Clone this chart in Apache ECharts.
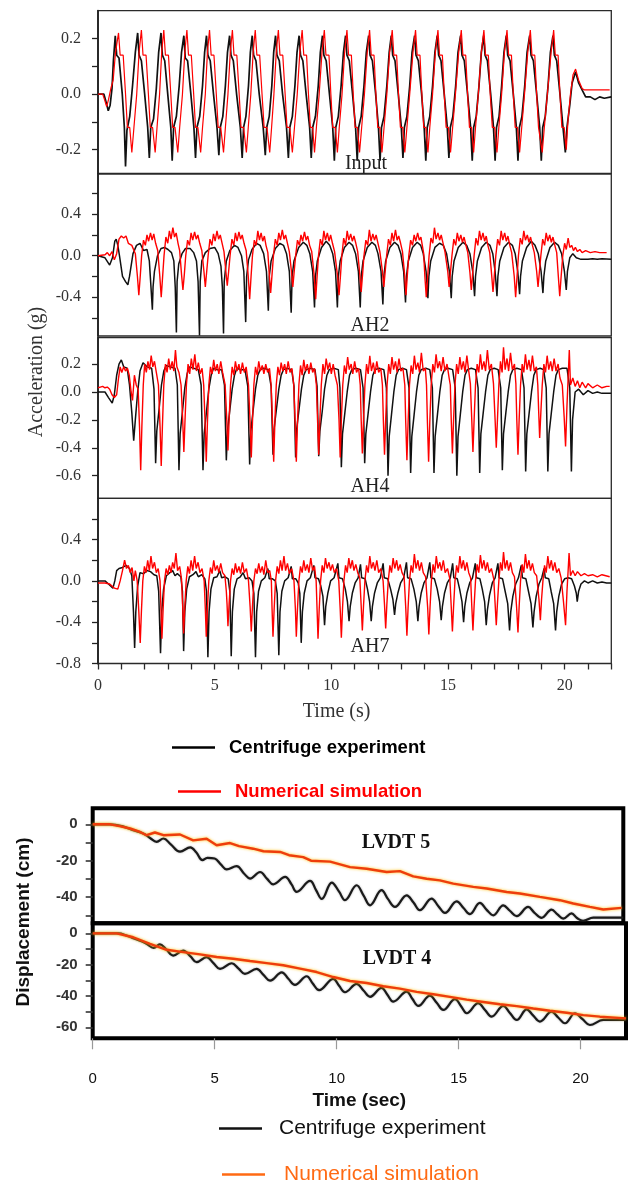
<!DOCTYPE html>
<html><head><meta charset="utf-8">
<script src="https://cdn.jsdelivr.net/npm/echarts@6/dist/echarts.min.js"></script>
<style>html,body{margin:0;padding:0;background:#fff}#c{width:631px;height:1182px}</style>
</head><body><div id="c"></div>
<script>
// ---------------- DATA (time s, value) ----------------
const inputExp = [[0,0],[0.25,0],[0.32,-0.02],[0.44,-0.06],[0.52,-0.04],[0.6,0.02],[0.66,0.12],
[0.74,0.21],[0.8,0.14],[0.9,0.13],[1.04,0],[1.13,-0.12],[1.18,-0.26],[1.24,-0.13],[1.36,-0.08],[1.48,0.03],[1.6,0.15],
[1.7,0.22],[1.76,0.14],[1.86,0.12],[2.0,0],[2.13,-0.12],[2.2,-0.23],[2.26,-0.12],[2.38,-0.09],[2.5,0.02],[2.6,0.15],
[2.7,0.22],[2.76,0.14],[2.86,0.12],[3.0,-0.01],[3.12,-0.12],[3.18,-0.24],[3.24,-0.12],[3.36,-0.08],[3.48,0.03],[3.58,0.15],
[3.68,0.21],[3.74,0.13],[3.84,0.12],[3.98,0],[4.11,-0.12],[4.18,-0.23],[4.24,-0.12],[4.36,-0.08],[4.48,0.03],[4.57,0.15],
[4.65,0.21],[4.71,0.14],[4.81,0.12],[4.95,0],[5.1,-0.12],[5.18,-0.22],[5.24,-0.12],[5.35,-0.08],[5.46,0.03],[5.55,0.15],
[5.64,0.21],[5.7,0.14],[5.8,0.12],[5.94,0],[6.1,-0.12],[6.18,-0.23],[6.24,-0.12],[6.34,-0.08],[6.45,0.03],[6.53,0.15],
[6.61,0.21],[6.67,0.14],[6.77,0.12],[6.91,0],[7.08,-0.12],[7.17,-0.22],[7.23,-0.12],[7.34,-0.08],[7.45,0.03],[7.53,0.15],
[7.61,0.21],[7.67,0.14],[7.77,0.12],[7.91,0],[8.08,-0.12],[8.16,-0.23],[8.22,-0.12],[8.33,-0.08],[8.44,0.03],[8.53,0.15],
[8.62,0.21],[8.68,0.14],[8.78,0.12],[8.92,0],[9.07,-0.12],[9.14,-0.23],[9.2,-0.12],[9.32,-0.08],[9.44,0.03],[9.53,0.15],
[9.62,0.21],[9.68,0.14],[9.78,0.12],[9.92,0],[10.06,-0.12],[10.13,-0.24],[10.19,-0.12],[10.3,-0.08],[10.42,0.03],[10.52,0.15],
[10.61,0.21],[10.67,0.14],[10.77,0.12],[10.91,0],[11.04,-0.12],[11.11,-0.24],[11.17,-0.12],[11.28,-0.08],[11.4,0.03],[11.5,0.15],
[11.6,0.21],[11.66,0.14],[11.76,0.12],[11.9,0],[12.02,-0.12],[12.09,-0.24],[12.15,-0.12],[12.26,-0.08],[12.38,0.03],[12.48,0.15],
[12.57,0.21],[12.63,0.14],[12.73,0.12],[12.87,0],[13.0,-0.12],[13.07,-0.23],[13.13,-0.12],[13.24,-0.08],[13.36,0.03],[13.46,0.15],
[13.57,0.21],[13.63,0.14],[13.73,0.12],[13.87,0],[13.98,-0.12],[14.05,-0.24],[14.11,-0.12],[14.22,-0.08],[14.34,0.03],[14.44,0.15],
[14.54,0.21],[14.6,0.14],[14.7,0.12],[14.84,0],[14.97,-0.12],[15.04,-0.23],[15.1,-0.12],[15.21,-0.08],[15.33,0.03],[15.43,0.15],
[15.54,0.21],[15.6,0.14],[15.7,0.12],[15.84,0],[15.97,-0.12],[16.04,-0.24],[16.1,-0.12],[16.21,-0.08],[16.33,0.03],[16.43,0.15],
[16.53,0.21],[16.59,0.14],[16.69,0.12],[16.83,0],[16.95,-0.12],[17.02,-0.24],[17.08,-0.12],[17.19,-0.08],[17.3,0.03],[17.4,0.15],
[17.5,0.21],[17.56,0.14],[17.66,0.12],[17.8,0],[17.93,-0.12],[18.0,-0.24],[18.06,-0.12],[18.17,-0.08],[18.29,0.03],[18.39,0.15],
[18.5,0.21],[18.56,0.14],[18.66,0.12],[18.8,0],[18.93,-0.12],[19.0,-0.24],[19.06,-0.12],[19.17,-0.08],[19.29,0.03],[19.39,0.15],
[19.5,0.21],[19.56,0.14],[19.66,0.12],[19.8,0],[19.93,-0.12],[20.03,-0.21],[20.1,-0.12],[20.22,-0.04],[20.32,0.04],[20.47,0.08],
[20.6,0.04],[20.78,0.01],[20.9,-0.01],[21.1,-0.01],[21.3,-0.02],[21.5,-0.01],[21.7,-0.015],[22,-0.01]];

const inputNum = [[0,0],[0.2,0],[0.28,-0.02],[0.37,-0.045],[0.45,-0.02],[0.55,0.02],[0.65,0.05],[0.75,0.15],
[0.88,0.22],[0.95,0.14],[1.08,0.14],[1.18,0],[1.26,-0.12],[1.36,-0.12],[1.45,-0.21],[1.54,-0.12],[1.66,0],[1.76,0.15],
[1.86,0.23],[1.93,0.14],[2.06,0.14],[2.16,0],[2.24,-0.12],[2.34,-0.12],[2.45,-0.21],[2.53,-0.12],[2.64,0],[2.73,0.15],
[2.82,0.23],[2.89,0.14],[3.02,0.14],[3.12,0],[3.2,-0.12],[3.3,-0.12],[3.42,-0.21],[3.5,-0.12],[3.62,0],[3.72,0.15],
[3.81,0.23],[3.88,0.14],[4.0,0.14],[4.1,0],[4.18,-0.12],[4.28,-0.12],[4.4,-0.21],[4.48,-0.12],[4.6,0],[4.69,0.15],
[4.78,0.23],[4.85,0.14],[4.97,0.14],[5.07,0],[5.15,-0.12],[5.26,-0.12],[5.38,-0.21],[5.46,-0.12],[5.57,0],[5.67,0.15],
[5.76,0.23],[5.83,0.14],[5.95,0.14],[6.05,0],[6.13,-0.12],[6.24,-0.12],[6.36,-0.21],[6.44,-0.12],[6.55,0],[6.65,0.15],
[6.74,0.23],[6.81,0.14],[6.93,0.14],[7.03,0],[7.12,-0.12],[7.24,-0.12],[7.36,-0.21],[7.44,-0.12],[7.54,0],[7.64,0.15],
[7.73,0.23],[7.8,0.14],[7.92,0.14],[8.02,0],[8.1,-0.12],[8.22,-0.12],[8.33,-0.21],[8.42,-0.12],[8.54,0],[8.65,0.15],
[8.75,0.23],[8.82,0.14],[8.94,0.14],[9.02,0],[9.1,-0.12],[9.2,-0.12],[9.28,-0.21],[9.36,-0.12],[9.48,0],[9.6,0.15],
[9.7,0.23],[9.77,0.14],[9.9,0.14],[9.98,0],[10.06,-0.12],[10.17,-0.12],[10.26,-0.21],[10.34,-0.12],[10.46,0],[10.57,0.15],
[10.67,0.23],[10.74,0.14],[10.86,0.14],[10.94,0],[11.02,-0.12],[11.12,-0.12],[11.21,-0.21],[11.3,-0.12],[11.42,0],[11.54,0.15],
[11.64,0.23],[11.71,0.14],[11.83,0.14],[11.91,0],[11.99,-0.12],[12.08,-0.12],[12.17,-0.21],[12.26,-0.12],[12.38,0],[12.5,0.15],
[12.61,0.23],[12.68,0.14],[12.8,0.14],[12.88,0],[12.96,-0.12],[13.06,-0.12],[13.15,-0.21],[13.24,-0.12],[13.36,0],[13.5,0.15],
[13.61,0.23],[13.68,0.14],[13.8,0.14],[13.88,0],[13.96,-0.12],[14.05,-0.12],[14.14,-0.21],[14.22,-0.12],[14.34,0],[14.46,0.15],
[14.57,0.23],[14.64,0.14],[14.76,0.14],[14.84,0],[14.92,-0.12],[15.02,-0.12],[15.11,-0.21],[15.2,-0.12],[15.32,0],[15.46,0.15],
[15.57,0.23],[15.64,0.14],[15.76,0.14],[15.84,0],[15.92,-0.12],[16.01,-0.12],[16.1,-0.21],[16.18,-0.12],[16.3,0],[16.43,0.15],
[16.54,0.23],[16.61,0.14],[16.73,0.14],[16.81,0],[16.9,-0.12],[17.0,-0.12],[17.1,-0.21],[17.18,-0.12],[17.3,0],[17.42,0.15],
[17.53,0.23],[17.6,0.14],[17.72,0.14],[17.8,0],[17.88,-0.12],[17.98,-0.12],[18.07,-0.21],[18.16,-0.12],[18.28,0],[18.42,0.15],
[18.53,0.23],[18.6,0.14],[18.72,0.14],[18.8,0],[18.88,-0.12],[18.95,-0.12],[19.04,-0.21],[19.13,-0.12],[19.26,0],[19.42,0.15],
[19.53,0.23],[19.6,0.14],[19.72,0.14],[19.8,0],[19.88,-0.12],[19.98,-0.12],[20.07,-0.2],[20.14,-0.1],[20.25,0],[20.36,0.07],
[20.47,0.09],[20.6,0.05],[20.75,0.02],[20.85,0.015],[21.93,0.015]];

const ah2Exp = [[0,0],[0.3,-0.02],[0.5,-0.09],[0.62,-0.02],[0.72,0.14],[0.78,0.16],[0.85,0.1],[0.92,0.0],[1.05,-0.2],[1.18,-0.25],[1.28,-0.28],[1.35,-0.2],[1.5,0.02],[1.65,0.1],[1.8,0.12],[1.95,0.05],[2.1,0.06],[2.2,-0.05],[2.27,-0.3],[2.33,-0.52],
[2.36,-0.3],[2.42,-0.15],[2.55,0.0],[2.7,0.07],[2.85,0.08],[3.0,0.06],[3.15,0.03],[3.25,-0.05],[3.31,-0.3],[3.36,-0.74],
[3.39,-0.25],[3.46,-0.08],[3.6,0.02],[3.75,0.07],[3.95,0.07],[4.1,0.03],[4.22,-0.05],[4.29,-0.25],[4.35,-0.77],
[4.38,-0.25],[4.45,-0.05],[4.6,0.03],[4.8,0.07],[5.0,0.08],[5.15,0.02],[5.27,-0.1],[5.33,-0.3],[5.38,-0.75],
[5.41,-0.25],[5.5,-0.05],[5.65,0.05],[5.85,0.1],[6.0,0.08],[6.15,0.0],[6.25,-0.15],[6.33,-0.64],
[6.37,-0.2],[6.45,-0.04],[6.6,0.06],[6.8,0.12],[6.95,0.1],[7.1,0.02],[7.22,-0.15],[7.3,-0.53],
[7.34,-0.2],[7.42,-0.05],[7.6,0.07],[7.8,0.12],[7.95,0.1],[8.08,0.02],[8.2,-0.15],[8.28,-0.55],
[8.32,-0.2],[8.4,-0.05],[8.6,0.08],[8.8,0.13],[8.95,0.1],[9.08,0.02],[9.2,-0.15],[9.28,-0.5],
[9.32,-0.2],[9.4,-0.05],[9.58,0.08],[9.78,0.14],[9.93,0.1],[10.06,0.02],[10.18,-0.15],[10.26,-0.5],
[10.3,-0.2],[10.38,-0.05],[10.56,0.08],[10.76,0.13],[10.91,0.1],[11.04,0.02],[11.16,-0.15],[11.24,-0.5],
[11.28,-0.2],[11.36,-0.05],[11.54,0.08],[11.74,0.13],[11.89,0.1],[12.0,0.02],[12.13,-0.15],[12.21,-0.47],
[12.25,-0.2],[12.33,-0.05],[12.51,0.08],[12.71,0.13],[12.86,0.1],[12.98,0.02],[13.1,-0.15],[13.18,-0.45],
[13.22,-0.2],[13.3,-0.05],[13.48,0.08],[13.68,0.13],[13.83,0.1],[13.94,0.02],[14.06,-0.15],[14.14,-0.41],
[14.18,-0.2],[14.26,-0.05],[14.44,0.08],[14.64,0.12],[14.8,0.1],[14.94,0.02],[15.06,-0.15],[15.14,-0.41],
[15.18,-0.2],[15.26,-0.05],[15.44,0.08],[15.64,0.13],[15.8,0.1],[15.94,0.02],[16.06,-0.15],[16.14,-0.39],
[16.18,-0.2],[16.26,-0.05],[16.44,0.08],[16.64,0.13],[16.8,0.1],[16.92,0.02],[17.02,-0.15],[17.1,-0.39],
[17.14,-0.2],[17.22,-0.05],[17.4,0.08],[17.6,0.13],[17.76,0.1],[17.88,0.02],[17.99,-0.15],[18.07,-0.37],
[18.11,-0.2],[18.19,-0.05],[18.37,0.08],[18.57,0.14],[18.73,0.1],[18.87,0.02],[18.99,-0.15],[19.07,-0.36],
[19.11,-0.2],[19.19,-0.05],[19.37,0.08],[19.57,0.13],[19.73,0.1],[19.87,0.02],[19.99,-0.15],[20.07,-0.33],
[20.12,-0.15],[20.22,-0.02],[20.35,0.02],[20.5,-0.02],[20.7,-0.035],[21.0,-0.035],[21.2,-0.03],[21.4,-0.035],[21.6,-0.03],[22,-0.035]];

const ah2Num = [[0,0],[0.3,0.01],[0.4,0.03],[0.5,0.0],[0.6,0.04],[0.7,-0.04],[0.8,0.02],[0.9,0.16],[1.0,0.19],[1.1,0.17],[1.2,0.19],[1.3,0.12],[1.45,0.1],[1.6,0.02],[1.69,-0.2],[1.75,-0.38],
[1.81,-0.2],[1.87,0.0],[1.95,0.15],[2.03,0.1],[2.1,0.2],[2.17,0.14],[2.25,0.22],[2.32,0.15],[2.39,0.21],[2.47,0.12],[2.56,0.05],[2.65,-0.2],[2.71,-0.4],
[2.77,-0.2],[2.83,0.0],[2.91,0.18],[2.99,0.12],[3.06,0.24],[3.13,0.16],[3.21,0.27],[3.28,0.18],[3.35,0.22],[3.43,0.12],[3.5,0.05],[3.58,-0.18],[3.64,-0.33],
[3.7,-0.18],[3.76,0.0],[3.84,0.15],[3.92,0.1],[3.99,0.22],[4.06,0.15],[4.14,0.23],[4.21,0.16],[4.28,0.2],[4.36,0.12],[4.45,0.05],[4.54,-0.15],[4.6,-0.3],
[4.66,-0.15],[4.72,0.0],[4.8,0.16],[4.88,0.1],[4.95,0.21],[5.02,0.14],[5.1,0.24],[5.17,0.16],[5.24,0.2],[5.32,0.12],[5.4,0.04],[5.48,-0.15],[5.54,-0.29],
[5.6,-0.15],[5.66,0.0],[5.74,0.16],[5.82,0.1],[5.89,0.22],[5.96,0.14],[6.04,0.23],[6.11,0.16],[6.18,0.2],[6.26,0.12],[6.35,0.05],[6.44,-0.2],[6.5,-0.42],
[6.56,-0.2],[6.62,0.0],[6.7,0.15],[6.78,0.1],[6.85,0.24],[6.92,0.15],[6.99,0.22],[7.06,0.14],[7.13,0.19],[7.2,0.1],[7.28,0.03],[7.34,-0.18],[7.4,-0.36],
[7.46,-0.18],[7.52,0.0],[7.6,0.16],[7.68,0.1],[7.75,0.22],[7.82,0.15],[7.9,0.25],[7.97,0.16],[8.04,0.2],[8.12,0.12],[8.2,0.04],[8.29,-0.15],[8.35,-0.3],
[8.41,-0.15],[8.47,0.0],[8.55,0.15],[8.63,0.1],[8.7,0.2],[8.77,0.14],[8.85,0.23],[8.92,0.15],[8.99,0.19],[9.07,0.1],[9.16,0.04],[9.27,-0.2],[9.33,-0.42],
[9.39,-0.2],[9.45,0.0],[9.53,0.16],[9.61,0.1],[9.68,0.24],[9.75,0.15],[9.83,0.22],[9.9,0.14],[9.97,0.2],[10.05,0.12],[10.14,0.04],[10.27,-0.2],[10.33,-0.38],
[10.39,-0.2],[10.45,0.0],[10.53,0.17],[10.61,0.1],[10.68,0.24],[10.75,0.15],[10.83,0.21],[10.9,0.14],[10.97,0.19],[11.05,0.12],[11.13,0.04],[11.22,-0.18],[11.28,-0.35],
[11.34,-0.18],[11.4,0.0],[11.48,0.15],[11.56,0.1],[11.63,0.25],[11.7,0.14],[11.78,0.21],[11.85,0.15],[11.92,0.2],[12.0,0.12],[12.08,0.04],[12.19,-0.15],[12.25,-0.3],
[12.31,-0.15],[12.37,0.0],[12.45,0.16],[12.53,0.1],[12.6,0.22],[12.67,0.14],[12.75,0.25],[12.82,0.15],[12.89,0.19],[12.97,0.12],[13.05,0.04],[13.14,-0.18],[13.2,-0.38],
[13.26,-0.18],[13.32,0.0],[13.4,0.15],[13.48,0.1],[13.55,0.2],[13.62,0.14],[13.7,0.22],[13.77,0.15],[13.84,0.18],[13.9,0.1],[13.96,0.02],[14.01,-0.2],[14.07,-0.4],
[14.13,-0.2],[14.19,0.0],[14.27,0.17],[14.35,0.12],[14.42,0.27],[14.49,0.16],[14.57,0.22],[14.64,0.15],[14.71,0.2],[14.79,0.12],[14.87,0.04],[14.99,-0.15],[15.05,-0.3],
[15.11,-0.15],[15.17,0.0],[15.25,0.16],[15.33,0.1],[15.4,0.22],[15.47,0.14],[15.55,0.2],[15.62,0.13],[15.69,0.18],[15.77,0.1],[15.85,0.03],[15.94,-0.16],[16.0,-0.33],
[16.06,-0.16],[16.12,0.0],[16.2,0.17],[16.28,0.1],[16.35,0.24],[16.42,0.15],[16.5,0.22],[16.57,0.14],[16.64,0.19],[16.71,0.1],[16.79,0.03],[16.87,-0.18],[16.93,-0.35],
[16.99,-0.18],[17.05,0.0],[17.13,0.16],[17.21,0.1],[17.28,0.24],[17.35,0.15],[17.43,0.22],[17.5,0.14],[17.57,0.19],[17.65,0.1],[17.73,0.03],[17.84,-0.2],[17.9,-0.4],
[17.96,-0.2],[18.02,0.0],[18.1,0.17],[18.18,0.11],[18.25,0.24],[18.32,0.15],[18.4,0.2],[18.47,0.13],[18.54,0.18],[18.62,0.1],[18.7,0.03],[18.8,-0.15],[18.86,-0.3],
[18.92,-0.15],[18.98,0.0],[19.06,0.16],[19.14,0.1],[19.21,0.22],[19.28,0.14],[19.36,0.2],[19.43,0.13],[19.5,0.18],[19.58,0.1],[19.66,0.03],[19.73,-0.2],[19.79,-0.39],
[19.85,-0.2],[19.92,0.0],[20.0,0.12],[20.07,0.06],[20.15,0.17],[20.22,0.08],[20.3,0.1],[20.38,0.05],[20.46,0.08],[20.55,0.04],[20.65,0.06],[20.75,0.03],[20.9,0.05],[21.1,0.03],[21.3,0.04],[21.5,0.03],[21.8,0.03]];

const ah4Exp = [[0,0],[0.3,0],[0.45,-0.04],[0.61,-0.08],[0.7,-0.02],[0.8,0.12],[0.9,0.2],[1.0,0.23],[1.1,0.18],[1.25,0.17],[1.35,0.05],[1.45,-0.15],[1.53,-0.35],[1.6,-0.2],[1.7,0.0],[1.8,0.15],[1.93,0.21],[2.1,0.18],[2.3,0.17],[2.4,0.02],[2.47,-0.51],
[2.52,-0.28],[2.62,-0.12],[2.72,0.05],[2.82,0.15],[2.92,0.19],[3.1,0.18],[3.3,0.17],[3.4,0.05],[3.47,-0.56],
[3.52,-0.3],[3.62,-0.14],[3.72,0.03],[3.82,0.13],[3.92,0.18],[4.1,0.17],[4.3,0.16],[4.42,0.05],[4.5,-0.56],
[4.55,-0.3],[4.65,-0.14],[4.75,0.02],[4.85,0.12],[4.95,0.17],[5.1,0.16],[5.3,0.16],[5.42,0.05],[5.5,-0.49],
[5.55,-0.28],[5.65,-0.13],[5.75,0.02],[5.85,0.12],[5.95,0.17],[6.1,0.16],[6.3,0.16],[6.42,0.04],[6.5,-0.52],
[6.55,-0.28],[6.65,-0.13],[6.75,0.02],[6.85,0.12],[6.95,0.16],[7.1,0.17],[7.3,0.16],[7.42,0.04],[7.5,-0.45],
[7.55,-0.26],[7.65,-0.12],[7.75,0.02],[7.85,0.12],[7.95,0.16],[8.1,0.17],[8.3,0.16],[8.4,0.04],[8.47,-0.47],
[8.52,-0.26],[8.62,-0.12],[8.72,0.02],[8.82,0.12],[8.92,0.16],[9.1,0.17],[9.3,0.16],[9.39,0.04],[9.46,-0.46],
[9.51,-0.28],[9.61,-0.14],[9.71,0.02],[9.81,0.12],[9.91,0.16],[10.1,0.17],[10.3,0.16],[10.37,0.03],[10.43,-0.54],
[10.48,-0.3],[10.58,-0.15],[10.68,0.0],[10.78,0.12],[10.88,0.16],[11.05,0.17],[11.25,0.16],[11.36,0.03],[11.43,-0.51],
[11.48,-0.3],[11.58,-0.15],[11.68,0.0],[11.78,0.12],[11.88,0.16],[12.05,0.17],[12.25,0.16],[12.36,0.03],[12.43,-0.6],
[12.48,-0.32],[12.58,-0.16],[12.68,0.0],[12.78,0.12],[12.88,0.16],[13.05,0.17],[13.22,0.16],[13.33,0.03],[13.4,-0.58],
[13.45,-0.32],[13.55,-0.16],[13.65,0.0],[13.75,0.12],[13.85,0.16],[14.05,0.17],[14.22,0.16],[14.33,0.03],[14.4,-0.58],
[14.45,-0.32],[14.55,-0.16],[14.65,0.0],[14.75,0.12],[14.85,0.16],[15.0,0.17],[15.2,0.16],[15.31,0.03],[15.38,-0.6],
[15.43,-0.32],[15.53,-0.16],[15.63,0.0],[15.73,0.12],[15.83,0.16],[16.0,0.17],[16.18,0.16],[16.29,0.03],[16.36,-0.58],
[16.41,-0.3],[16.51,-0.15],[16.61,0.0],[16.71,0.12],[16.81,0.16],[16.98,0.17],[17.15,0.16],[17.26,0.03],[17.33,-0.56],
[17.38,-0.3],[17.48,-0.15],[17.58,0.0],[17.68,0.12],[17.78,0.16],[17.95,0.17],[18.15,0.16],[18.26,0.03],[18.33,-0.57],
[18.38,-0.3],[18.48,-0.15],[18.58,0.0],[18.68,0.12],[18.78,0.16],[18.95,0.17],[19.1,0.16],[19.21,0.03],[19.28,-0.57],
[19.33,-0.3],[19.43,-0.15],[19.53,0.0],[19.63,0.12],[19.73,0.16],[19.9,0.17],[20.1,0.17],[20.22,0.03],[20.29,-0.57],
[20.34,-0.2],[20.45,0.0],[20.6,0.02],[20.8,-0.02],[21.0,0.01],[21.2,-0.01],[21.4,0.0],[21.6,-0.01],[22,-0.01]];

const ah4Num = [[0,0.03],[0.1,0.035],[0.2,0.04],[0.3,0.03],[0.4,0.035],[0.5,0.02],[0.6,-0.02],[0.7,-0.04],[0.8,-0.02],[0.88,0.1],[0.95,0.18],[1.02,0.14],[1.1,0.18],[1.18,0.15],[1.26,0.17],[1.34,0.12],[1.42,0.0],[1.48,-0.06],[1.56,0.12],[1.64,0.05],[1.72,0.02],[1.78,-0.25],[1.83,-0.56],
[1.88,-0.25],[1.94,0.05],[2.0,0.2],[2.07,0.14],[2.14,0.22],[2.21,0.16],[2.28,0.26],[2.35,0.18],[2.42,0.22],[2.5,0.14],[2.59,0.05],[2.66,-0.25],[2.71,-0.53],
[2.76,-0.25],[2.82,0.05],[2.89,0.2],[2.96,0.14],[3.03,0.24],[3.1,0.16],[3.18,0.22],[3.25,0.15],[3.32,0.3],[3.38,0.18],[3.47,0.14],[3.56,0.05],[3.63,-0.2],[3.68,-0.43],
[3.73,-0.2],[3.79,0.05],[3.86,0.2],[3.93,0.13],[4.0,0.24],[4.07,0.16],[4.15,0.27],[4.22,0.15],[4.3,0.21],[4.38,0.13],[4.46,0.17],[4.53,0.05],[4.59,-0.22],[4.64,-0.5],
[4.69,-0.22],[4.75,0.05],[4.82,0.18],[4.89,0.13],[4.96,0.23],[5.03,0.15],[5.11,0.2],[5.18,0.13],[5.26,0.22],[5.34,0.14],[5.45,0.05],[5.52,-0.2],[5.57,-0.42],
[5.62,-0.2],[5.68,0.05],[5.75,0.18],[5.82,0.12],[5.89,0.22],[5.96,0.15],[6.04,0.2],[6.11,0.13],[6.19,0.21],[6.27,0.14],[6.35,0.18],[6.45,0.05],[6.52,-0.22],[6.57,-0.47],
[6.62,-0.22],[6.68,0.05],[6.75,0.18],[6.82,0.12],[6.89,0.22],[6.96,0.15],[7.04,0.19],[7.11,0.13],[7.19,0.2],[7.27,0.14],[7.35,0.17],[7.42,0.05],[7.48,-0.22],[7.53,-0.5],
[7.58,-0.22],[7.64,0.05],[7.71,0.18],[7.78,0.12],[7.85,0.21],[7.92,0.15],[8.0,0.2],[8.07,0.13],[8.15,0.22],[8.23,0.14],[8.31,0.17],[8.39,0.05],[8.45,-0.22],[8.5,-0.5],
[8.55,-0.22],[8.61,0.05],[8.68,0.19],[8.75,0.12],[8.82,0.23],[8.89,0.15],[8.97,0.2],[9.04,0.13],[9.12,0.21],[9.2,0.14],[9.28,0.17],[9.36,0.05],[9.41,-0.2],[9.46,-0.45],
[9.51,-0.2],[9.57,0.05],[9.64,0.2],[9.71,0.13],[9.78,0.24],[9.85,0.16],[9.93,0.21],[10.0,0.13],[10.08,0.2],[10.16,0.12],[10.26,0.05],[10.33,-0.2],[10.38,-0.47],
[10.43,-0.2],[10.49,0.05],[10.56,0.19],[10.63,0.13],[10.7,0.25],[10.77,0.16],[10.85,0.2],[10.92,0.13],[11.0,0.22],[11.08,0.14],[11.17,0.17],[11.24,0.05],[11.28,-0.2],[11.33,-0.44],
[11.38,-0.2],[11.44,0.05],[11.51,0.2],[11.58,0.13],[11.65,0.26],[11.72,0.15],[11.8,0.21],[11.87,0.13],[11.95,0.22],[12.03,0.14],[12.12,0.17],[12.19,0.05],[12.23,-0.2],[12.28,-0.45],
[12.33,-0.2],[12.39,0.05],[12.46,0.2],[12.53,0.13],[12.6,0.25],[12.67,0.16],[12.75,0.22],[12.82,0.14],[12.9,0.24],[12.98,0.15],[13.07,0.17],[13.15,0.05],[13.19,-0.22],[13.24,-0.49],
[13.29,-0.22],[13.35,0.05],[13.42,0.19],[13.49,0.13],[13.56,0.26],[13.63,0.16],[13.71,0.21],[13.78,0.14],[13.86,0.28],[13.94,0.15],[14.03,0.17],[14.08,0.05],[14.12,-0.22],[14.17,-0.5],
[14.22,-0.22],[14.28,0.05],[14.35,0.2],[14.42,0.14],[14.49,0.27],[14.56,0.17],[14.64,0.22],[14.71,0.15],[14.79,0.25],[14.87,0.15],[14.96,0.2],[15.05,0.1],[15.1,0.05],[15.14,-0.2],[15.19,-0.44],
[15.24,-0.2],[15.3,0.05],[15.37,0.2],[15.44,0.13],[15.51,0.25],[15.58,0.16],[15.66,0.22],[15.73,0.14],[15.81,0.26],[15.89,0.15],[15.96,0.06],[16.02,-0.2],[16.07,-0.43],
[16.12,-0.2],[16.18,0.05],[16.25,0.2],[16.32,0.14],[16.39,0.27],[16.46,0.16],[16.54,0.22],[16.61,0.15],[16.69,0.3],[16.77,0.16],[16.86,0.2],[16.95,0.06],[17.02,-0.2],[17.07,-0.4],
[17.12,-0.2],[17.18,0.05],[17.25,0.22],[17.32,0.14],[17.38,0.32],[17.45,0.16],[17.53,0.24],[17.6,0.15],[17.68,0.28],[17.76,0.16],[17.85,0.2],[17.91,0.06],[17.95,-0.2],[18.0,-0.45],
[18.05,-0.2],[18.11,0.05],[18.18,0.2],[18.25,0.14],[18.32,0.27],[18.39,0.16],[18.47,0.23],[18.54,0.15],[18.62,0.26],[18.7,0.15],[18.79,0.18],[18.85,0.05],[18.89,-0.15],[18.93,-0.33],
[18.98,-0.15],[19.04,0.05],[19.11,0.2],[19.18,0.14],[19.25,0.26],[19.32,0.16],[19.4,0.22],[19.47,0.15],[19.55,0.24],[19.63,0.15],[19.72,0.2],[19.8,0.1],[19.9,0.05],[19.98,-0.18],[20.04,-0.39],
[20.1,-0.1],[20.15,0.1],[20.2,0.3],[20.25,0.05],[20.35,0.1],[20.45,0.04],[20.55,0.08],[20.65,0.03],[20.75,0.07],[20.9,0.03],[21.0,0.06],[21.2,0.03],[21.4,0.05],[21.6,0.03],[21.8,0.04],[21.93,0.04]];

const ah7Exp = [[0,0],[0.3,0],[0.45,-0.03],[0.64,-0.07],[0.72,0.0],[0.8,0.1],[0.9,0.12],[1.05,0.13],[1.2,0.15],[1.35,0.12],[1.45,0.05],[1.52,-0.3],[1.57,-0.65],
[1.62,-0.3],[1.7,-0.05],[1.8,0.08],[1.95,0.07],[2.1,0.1],[2.25,0.09],[2.4,0.06],[2.52,0.05],[2.6,-0.1],[2.68,-0.7],
[2.73,-0.3],[2.81,-0.08],[2.93,0.05],[3.08,0.08],[3.2,0.1],[3.3,0.05],[3.4,0.07],[3.55,0.04],[3.62,-0.1],[3.67,-0.68],
[3.72,-0.3],[3.8,-0.08],[3.92,0.04],[4.07,0.06],[4.2,0.09],[4.3,0.04],[4.45,0.06],[4.58,0.02],[4.65,-0.1],[4.71,-0.74],
[4.76,-0.3],[4.84,-0.08],[4.96,0.03],[5.1,0.04],[5.22,0.1],[5.3,0.03],[5.45,0.04],[5.58,0.02],[5.65,-0.1],[5.71,-0.73],
[5.76,-0.3],[5.84,-0.08],[5.96,0.02],[6.1,0.04],[6.22,0.08],[6.32,0.02],[6.48,0.03],[6.6,0.0],[6.68,-0.12],[6.75,-0.74],
[6.8,-0.3],[6.88,-0.1],[7.0,0.0],[7.15,0.03],[7.28,0.12],[7.34,0.02],[7.48,0.02],[7.6,0.0],[7.68,-0.12],[7.75,-0.72],
[7.8,-0.3],[7.88,-0.1],[8.0,0.0],[8.15,0.03],[8.28,0.14],[8.33,0.02],[8.48,0.02],[8.58,-0.02],[8.65,-0.12],[8.71,-0.6],
[8.76,-0.3],[8.84,-0.12],[8.96,0.0],[9.1,0.03],[9.25,0.15],[9.3,0.03],[9.45,0.02],[9.55,-0.05],[9.64,-0.15],[9.71,-0.43],
[9.76,-0.25],[9.85,-0.12],[9.97,0.0],[10.12,0.03],[10.28,0.17],[10.33,0.03],[10.48,0.02],[10.6,-0.08],[10.69,-0.2],[10.76,-0.39],
[10.81,-0.25],[10.9,-0.12],[11.02,-0.02],[11.15,0.03],[11.25,0.16],[11.3,0.03],[11.45,0.02],[11.55,-0.08],[11.64,-0.2],[11.71,-0.39],
[11.76,-0.25],[11.85,-0.12],[11.97,-0.02],[12.1,0.03],[12.22,0.17],[12.27,0.03],[12.42,0.02],[12.54,-0.08],[12.64,-0.18],[12.71,-0.33],
[12.76,-0.22],[12.85,-0.12],[12.97,-0.02],[13.1,0.03],[13.22,0.18],[13.27,0.03],[13.42,0.02],[13.54,-0.08],[13.64,-0.2],[13.71,-0.39],
[13.76,-0.25],[13.85,-0.12],[13.97,-0.02],[14.1,0.03],[14.22,0.18],[14.27,0.03],[14.42,0.02],[14.54,-0.08],[14.64,-0.2],[14.71,-0.38],
[14.76,-0.25],[14.85,-0.12],[14.97,-0.02],[15.1,0.03],[15.2,0.17],[15.25,0.03],[15.4,0.02],[15.5,-0.08],[15.6,-0.2],[15.67,-0.4],
[15.72,-0.25],[15.81,-0.12],[15.93,-0.02],[16.05,0.03],[16.17,0.17],[16.22,0.03],[16.37,0.02],[16.47,-0.08],[16.57,-0.2],[16.64,-0.43],
[16.69,-0.28],[16.78,-0.14],[16.9,-0.02],[17.02,0.03],[17.14,0.17],[17.19,0.03],[17.34,0.02],[17.45,-0.1],[17.56,-0.22],[17.64,-0.48],
[17.69,-0.3],[17.78,-0.15],[17.9,-0.03],[18.02,0.03],[18.14,0.15],[18.19,0.03],[18.34,0.02],[18.45,-0.1],[18.56,-0.22],[18.64,-0.45],
[18.69,-0.3],[18.78,-0.15],[18.9,-0.03],[19.02,0.03],[19.12,0.12],[19.17,0.03],[19.32,0.02],[19.42,-0.1],[19.53,-0.22],[19.61,-0.48],
[19.66,-0.3],[19.75,-0.15],[19.87,-0.03],[20.0,0.02],[20.15,0.03],[20.3,0.02],[20.42,-0.05],[20.5,-0.12],[20.54,-0.2],
[20.6,-0.1],[20.7,-0.03],[20.85,0.0],[21.0,-0.02],[21.2,0.0],[21.4,-0.02],[21.6,-0.01],[21.8,-0.02],[22,-0.02]];

const ah7Num = [[0,-0.02],[0.3,-0.02],[0.5,-0.03],[0.7,-0.07],[0.85,-0.08],[0.95,0.0],[1.05,0.1],[1.14,0.2],[1.22,0.12],[1.3,0.15],[1.38,0.08],[1.46,0.13],[1.54,0.0],[1.6,0.1],[1.68,0.0],[1.75,-0.3],[1.81,-0.6],
[1.86,-0.3],[1.92,0.0],[1.99,0.14],[2.06,0.08],[2.13,0.2],[2.2,0.1],[2.27,0.24],[2.34,0.12],[2.42,0.18],[2.5,0.08],[2.58,0.12],[2.66,0.0],[2.7,-0.28],[2.74,-0.56],
[2.79,-0.28],[2.85,0.0],[2.92,0.12],[2.99,0.06],[3.06,0.15],[3.13,0.08],[3.2,0.18],[3.27,0.12],[3.34,0.27],[3.41,0.1],[3.5,0.14],[3.58,0.02],[3.63,-0.25],[3.67,-0.51],
[3.72,-0.25],[3.78,0.0],[3.85,0.14],[3.92,0.07],[3.99,0.2],[4.06,0.1],[4.14,0.24],[4.21,0.12],[4.29,0.18],[4.37,0.08],[4.46,0.12],[4.55,0.0],[4.6,-0.27],[4.64,-0.54],
[4.69,-0.27],[4.75,0.0],[4.82,0.13],[4.89,0.07],[4.96,0.2],[5.03,0.1],[5.11,0.15],[5.18,0.08],[5.26,0.17],[5.34,0.08],[5.44,0.05],[5.5,-0.1],[5.53,-0.22],[5.57,-0.44],
[5.62,-0.22],[5.68,0.0],[5.75,0.12],[5.82,0.06],[5.89,0.17],[5.96,0.08],[6.04,0.14],[6.11,0.07],[6.19,0.18],[6.27,0.08],[6.36,0.12],[6.45,0.0],[6.52,-0.25],[6.57,-0.49],
[6.62,-0.25],[6.68,0.0],[6.75,0.12],[6.82,0.07],[6.89,0.17],[6.96,0.08],[7.04,0.14],[7.11,0.06],[7.19,0.2],[7.27,0.08],[7.36,0.1],[7.43,0.0],[7.46,-0.27],[7.5,-0.54],
[7.55,-0.27],[7.61,0.0],[7.68,0.14],[7.75,0.07],[7.82,0.2],[7.89,0.1],[7.97,0.24],[8.04,0.1],[8.12,0.17],[8.2,0.07],[8.3,0.12],[8.4,0.0],[8.46,-0.27],[8.5,-0.54],
[8.55,-0.27],[8.61,0.0],[8.68,0.14],[8.75,0.08],[8.82,0.2],[8.89,0.1],[8.97,0.16],[9.04,0.08],[9.12,0.22],[9.2,0.1],[9.28,0.14],[9.35,0.0],[9.39,-0.28],[9.43,-0.56],
[9.48,-0.28],[9.54,0.0],[9.61,0.15],[9.68,0.08],[9.75,0.22],[9.82,0.12],[9.9,0.18],[9.97,0.1],[10.05,0.16],[10.13,0.08],[10.22,0.12],[10.32,0.0],[10.38,-0.27],[10.43,-0.55],
[10.48,-0.27],[10.54,0.0],[10.61,0.15],[10.68,0.08],[10.75,0.22],[10.82,0.12],[10.9,0.2],[10.97,0.1],[11.05,0.16],[11.13,0.08],[11.22,0.03],[11.28,-0.24],[11.33,-0.48],
[11.38,-0.24],[11.44,0.0],[11.51,0.15],[11.58,0.08],[11.65,0.24],[11.72,0.12],[11.8,0.18],[11.87,0.1],[11.95,0.2],[12.03,0.08],[12.12,0.12],[12.22,0.0],[12.28,-0.23],[12.33,-0.46],
[12.38,-0.23],[12.44,0.0],[12.51,0.15],[12.58,0.08],[12.65,0.22],[12.72,0.12],[12.8,0.2],[12.87,0.1],[12.95,0.16],[13.03,0.08],[13.12,0.04],[13.19,-0.26],[13.24,-0.53],
[13.29,-0.26],[13.35,0.0],[13.42,0.15],[13.49,0.08],[13.56,0.26],[13.63,0.12],[13.71,0.2],[13.78,0.1],[13.86,0.18],[13.94,0.08],[14.04,0.04],[14.13,-0.26],[14.18,-0.52],
[14.23,-0.26],[14.29,0.0],[14.36,0.16],[14.43,0.08],[14.5,0.24],[14.57,0.12],[14.65,0.18],[14.72,0.1],[14.8,0.2],[14.88,0.08],[14.98,0.12],[15.08,0.02],[15.14,-0.25],[15.19,-0.49],
[15.24,-0.25],[15.3,0.0],[15.37,0.15],[15.44,0.08],[15.51,0.24],[15.58,0.12],[15.66,0.2],[15.73,0.1],[15.81,0.18],[15.89,0.08],[15.97,0.03],[16.02,-0.24],[16.07,-0.48],
[16.12,-0.24],[16.18,0.0],[16.25,0.16],[16.32,0.08],[16.39,0.25],[16.46,0.12],[16.54,0.2],[16.61,0.1],[16.69,0.18],[16.77,0.08],[16.86,0.12],[16.96,0.02],[17.02,-0.22],[17.07,-0.43],
[17.12,-0.22],[17.18,0.0],[17.25,0.18],[17.32,0.1],[17.38,0.28],[17.45,0.12],[17.53,0.2],[17.6,0.1],[17.68,0.18],[17.76,0.08],[17.85,0.04],[17.94,-0.25],[18.0,-0.5],
[18.05,-0.25],[18.11,0.0],[18.18,0.16],[18.25,0.08],[18.32,0.26],[18.39,0.12],[18.47,0.2],[18.54,0.1],[18.62,0.17],[18.7,0.08],[18.8,0.05],[18.9,-0.18],[18.96,-0.38],
[19.01,-0.18],[19.07,0.0],[19.14,0.15],[19.21,0.08],[19.28,0.24],[19.35,0.12],[19.43,0.2],[19.5,0.1],[19.58,0.18],[19.66,0.08],[19.75,0.12],[19.85,0.03],[19.95,-0.2],[20.04,-0.43],
[20.1,-0.1],[20.15,0.1],[20.19,0.27],[20.25,0.05],[20.35,0.1],[20.45,0.05],[20.55,0.09],[20.7,0.05],[20.85,0.07],[21.0,0.05],[21.2,0.06],[21.4,0.04],[21.6,0.06],[21.93,0.04]];

const lvdt5Exp = [[0,0],[0.71,0],[1.2,-1],[1.66,-3.2],[2.07,-5],[2.35,-7.5],[2.62,-9.6],[2.9,-7.8],[3.2,-11],[3.58,-15],[4.0,-12.7],[4.25,-15.5],[4.5,-19.7],[4.7,-18.4],[5.0,-18.8],[5.25,-22],[5.49,-24.8],[5.9,-23],[6.2,-27],[6.45,-29.8],[6.86,-26.2],[7.15,-30],[7.4,-33],[7.89,-28.9],[8.15,-33],[8.36,-37.1],[8.91,-31.1],[9.15,-36],[9.39,-41],[9.8,-32],[10.1,-37],[10.34,-41.7],[10.82,-33.5],[11.1,-39],[11.37,-44.5],[11.84,-36.2],[12.1,-41],[12.39,-45.4],[12.87,-39],[13.15,-43],[13.41,-47.2],[13.89,-40.8],[14.17,-45],[14.44,-48.7],[14.92,-42.3],[15.2,-46],[15.46,-49.4],[15.87,-43.2],[16.15,-47],[16.42,-50],[16.83,-44.5],[17.1,-47.5],[17.38,-50.5],[17.85,-45.4],[18.1,-48.5],[18.4,-51.4],[18.81,-46.9],[19.05,-49.5],[19.29,-51.8],[19.63,-49],[19.85,-51.5],[20.1,-53],[20.52,-51.3],[21.75,-51.3]];
const lvdt5Num = [[0,0],[0.71,0],[1.1,-1],[1.53,-2.3],[1.94,-4.2],[2.21,-6],[2.55,-4.5],[2.9,-6],[3.58,-5.6],[4.12,-8.8],[4.67,-7.9],[5.08,-11.5],[5.63,-10.3],[6.0,-12],[6.58,-13.4],[7.0,-14.8],[7.68,-15.2],[8.05,-17],[8.63,-18],[8.95,-20],[9.73,-20.5],[10.55,-23.5],[11.23,-24.4],[12.05,-26.2],[12.59,-25.7],[13.14,-28.6],[13.69,-29.9],[14.23,-30.8],[14.78,-32.6],[15.6,-34.4],[16.15,-35.3],[16.97,-37.2],[17.51,-38],[18.33,-39.9],[19.15,-41.7],[19.7,-43.5],[20.38,-45.4],[20.93,-46.8],[21.68,-45.9]];
const lvdt4Exp = [[0,0],[1.05,0],[1.4,-1.5],[1.66,-3.1],[2.0,-5],[2.21,-6.7],[2.5,-9.3],[2.75,-7.1],[3.0,-10],[3.3,-14.2],[3.71,-11],[4.0,-14.5],[4.26,-18.4],[4.67,-15.2],[4.95,-19],[5.22,-22.7],[5.7,-19.1],[5.98,-22.5],[6.24,-25.9],[6.72,-22.7],[7.0,-26.5],[7.27,-30.2],[7.75,-24.9],[8.02,-29],[8.29,-32.9],[8.77,-27.4],[9.02,-32],[9.28,-36.3],[9.86,-29.1],[10.1,-33.5],[10.34,-37.6],[10.82,-32.3],[11.1,-36.5],[11.37,-40.5],[11.84,-34.8],[12.08,-39.2],[12.32,-43.6],[12.87,-37.2],[13.1,-41.8],[13.35,-46.3],[13.82,-39.8],[14.1,-44.3],[14.37,-48.9],[14.85,-42],[15.1,-46.5],[15.33,-51],[15.8,-44.6],[16.08,-48.9],[16.35,-53.2],[16.83,-46.3],[17.1,-50.8],[17.38,-55.3],[17.79,-48.5],[18.05,-52.4],[18.33,-56.3],[18.81,-50],[19.08,-53.7],[19.36,-57.4],[19.77,-51],[20.08,-54.8],[20.38,-58.5],[20.93,-55.3],[21.86,-55.3]];
const lvdt4Num = [[0,0],[0.98,0],[1.66,-2.5],[2.35,-6.7],[3.03,-10.5],[3.71,-12],[4.4,-13.4],[5.08,-15.1],[5.76,-16.2],[6.45,-17.7],[7.13,-19],[7.81,-20.4],[8.5,-22.5],[9.18,-24.7],[9.86,-27.9],[10.55,-30.4],[11.23,-31.7],[11.91,-33.8],[12.59,-35.3],[13.28,-37.4],[13.96,-38.9],[14.64,-40.6],[15.33,-42.3],[16.01,-43.8],[16.69,-45.3],[17.38,-46.5],[18.06,-48],[18.74,-49.4],[19.43,-50.7],[20.11,-52.2],[20.79,-53.2],[21.86,-54.3]];

// tick labels
const timeLabelsTop = [0,5,10,15,20];
const timeLabelsBottom = [0,5,10,15,20];
const panelNames = ['Input','AH2','AH4','AH7'];
const lvdtNames = ['LVDT 5','LVDT 4'];
const EXP = 'Centrifuge experiment', NUM = 'Numerical simulation';

// ---------------- OPTION ----------------
const serif = '"Liberation Serif","Times New Roman",serif';
const sans = '"Liberation Sans",Arial,sans-serif';
const topGrids = [
  {top:10.7, height:162.6, min:-0.285, max:0.3, ticks:[-0.2,-0.1,0,0.1,0.2], labels:[-0.2,0,0.2]},
  {top:174, height:162, min:-0.774, max:0.788, ticks:[-0.6,-0.4,-0.2,0,0.2,0.4,0.6], labels:[-0.4,0,0.4]},
  {top:337.7, height:160.6, min:-0.762, max:0.389, ticks:[-0.6,-0.4,-0.2,0,0.2], labels:[-0.6,-0.4,-0.2,0,0.2]},
  {top:498.3, height:165.2, min:-0.8, max:0.8, ticks:[-0.8,-0.6,-0.4,-0.2,0,0.2,0.4,0.6], labels:[-0.8,-0.4,0,0.4]}
];
const grids=[], xAxes=[], yAxes=[];
topGrids.forEach((g,i)=>{
  grids.push({left:98, top:g.top, width:513.3, height:g.height, show:true, borderColor:'#2a2a2a', borderWidth:1.3, containLabel:false, outerBoundsMode:'none'});
  const last = i===3;
  xAxes.push({type:'value', gridIndex:i, position:'bottom', min:0, max:22, interval:1,
    axisLine:{show:false, onZero:false}, splitLine:{show:false},
    axisTick:{show:last, length:6, lineStyle:{color:'#2a2a2a', width:1.3}},
    axisLabel:{show:last, customValues:timeLabelsTop, margin:14, fontFamily:serif, fontSize:16, color:'#333'},
    name: last ? 'Time (s)' : '', nameLocation:'middle', nameGap:38,
    nameTextStyle:{fontFamily:serif, fontSize:20, color:'#333', padding:[0,36,0,0]}});
  yAxes.push({type:'value', gridIndex:i, min:g.min, max:g.max,
    axisLine:{show:true, onZero:false, lineStyle:{color:'#222', width:1.8}}, splitLine:{show:false},
    axisTick:{show:true, length:6, customValues:g.ticks, lineStyle:{color:'#222', width:1.3}},
    axisLabel:{customValues:g.labels, formatter:v=>v.toFixed(1), margin:17, fontFamily:serif, fontSize:16, color:'#333'}});
});
const botGrids = [
  {top:808.3, width:530.6, xmax:21.75, min:-54.4, max:8.8, ticks:[0,-10,-20,-30,-40,-50], labels:[0,-20,-40]},
  {top:923.3, width:533.3, xmax:21.86, min:-67, max:6.4, ticks:[0,-10,-20,-30,-40,-50,-60], labels:[0,-20,-40,-60]}
];
botGrids.forEach((g,j)=>{
  const i = 4+j, last = j===1;
  grids.push({left:92.7, top:g.top, width:g.width, height:115, show:true, borderColor:'#000', borderWidth:4, containLabel:false, outerBoundsMode:'none'});
  xAxes.push({type:'value', gridIndex:i, position:'bottom', min:0, max:g.xmax,
    axisLine:{show:false, onZero:false}, splitLine:{show:false},
    axisTick:{show:last, length:11, customValues:timeLabelsBottom, lineStyle:{color:'#999', width:1.2}},
    axisLabel:{show:last, customValues:timeLabelsBottom, margin:33, fontFamily:sans, fontSize:15, color:'#111'},
    name: last ? 'Time (sec)' : '', nameLocation:'middle', nameGap:53,
    nameTextStyle:{fontFamily:sans, fontWeight:'bold', fontSize:19, color:'#111'}});
  yAxes.push({type:'value', gridIndex:i, min:g.min, max:g.max,
    axisLine:{show:false, onZero:false}, splitLine:{show:false},
    axisTick:{show:true, length:7, customValues:g.ticks, lineStyle:{color:'#333', width:1.6}},
    axisLabel:{customValues:g.labels, margin:15, fontFamily:sans, fontWeight:'bold', fontSize:15, color:'#333'}});
});

function line(name, data, gi, color, width, extra){
  return Object.assign({type:'line', name, data, xAxisIndex:gi, yAxisIndex:gi, showSymbol:false, symbol:'none',
    clip:true, animation:false, color, lineStyle:{color, width}}, extra||{});
}
const series = [
  line(EXP, inputExp, 0, '#111', 1.7), line(NUM, inputNum, 0, '#ff0000', 1.2),
  line(EXP, ah2Exp, 1, '#111', 1.5), line(NUM, ah2Num, 1, '#ff0000', 1.4),
  line(EXP, ah4Exp, 2, '#111', 1.5), line(NUM, ah4Num, 2, '#ff0000', 1.4),
  line(EXP, ah7Exp, 3, '#111', 1.5), line(NUM, ah7Num, 3, '#ff0000', 1.4),
  line(EXP, lvdt5Exp, 4, '#1a1a1a', 2.2, {smooth:0.4, lineStyle:{color:'#1a1a1a', width:2.2, shadowColor:'rgba(0,0,0,0.35)', shadowBlur:2}}),
  line(NUM, lvdt5Num, 4, '#ee3d0c', 2.4, {lineStyle:{color:'#ee3d0c', width:2.4, shadowColor:'rgba(255,190,0,0.9)', shadowBlur:3}}),
  line(EXP, lvdt4Exp, 5, '#1a1a1a', 2.2, {smooth:0.4, lineStyle:{color:'#1a1a1a', width:2.2, shadowColor:'rgba(0,0,0,0.35)', shadowBlur:2}}),
  line(NUM, lvdt4Num, 5, '#ee3d0c', 2.4, {lineStyle:{color:'#ee3d0c', width:2.4, shadowColor:'rgba(255,190,0,0.9)', shadowBlur:3}})
];

function leg(left, top, name, color, font){
  return {left, top, orient:'horizontal', selectedMode:false, icon:'rect', itemWidth:43, itemHeight:2.5, padding:0,
    data:[{name, itemStyle:{color}, textStyle:{color}}],
    textStyle:Object.assign({color, padding:[0,0,0,9]}, font)};
}
const legends = [
  leg(172, 738, EXP, '#000', {fontFamily:sans, fontWeight:'bold', fontSize:18.5}),
  leg(178, 782, NUM, '#ff0000', {fontFamily:sans, fontWeight:'bold', fontSize:18.5}),
  leg(219, 1118, EXP, '#111', {fontFamily:sans, fontWeight:'normal', fontSize:21, padding:[0,0,0,12]}),
  leg(222, 1164, NUM, '#ff6a13', {fontFamily:sans, fontWeight:'normal', fontSize:21, padding:[0,0,0,14]})
];

function txt(x, y, text, font, fill, rot){
  return {type:'text', x, y, rotation:rot||0, z:100,
    style:{text, font, fill, align:'center', verticalAlign:'middle', textAlign:'center', textVerticalAlign:'middle'}};
}
const graphics = [
  txt(37, 372, 'Acceleration (g)', '20px '+serif, '#333', Math.PI/2),
  txt(366, 164, panelNames[0], '20px '+serif, '#222'),
  txt(370, 326, panelNames[1], '20px '+serif, '#222'),
  txt(370, 487, panelNames[2], '20px '+serif, '#222'),
  txt(370, 647, panelNames[3], '20px '+serif, '#222'),
  txt(396, 843, lvdtNames[0], 'bold 20px '+serif, '#111'),
  txt(397, 959, lvdtNames[1], 'bold 20px '+serif, '#111'),
  txt(24, 922, 'Displacement (cm)', 'bold 19px '+sans, '#111', Math.PI/2)
];

const chart = echarts.init(document.getElementById('c'), null, {renderer:'canvas'});
chart.setOption({backgroundColor:'#fff', animation:false, grid:grids, xAxis:xAxes, yAxis:yAxes,
  series, legend:legends, graphic:graphics});
</script></body></html>
